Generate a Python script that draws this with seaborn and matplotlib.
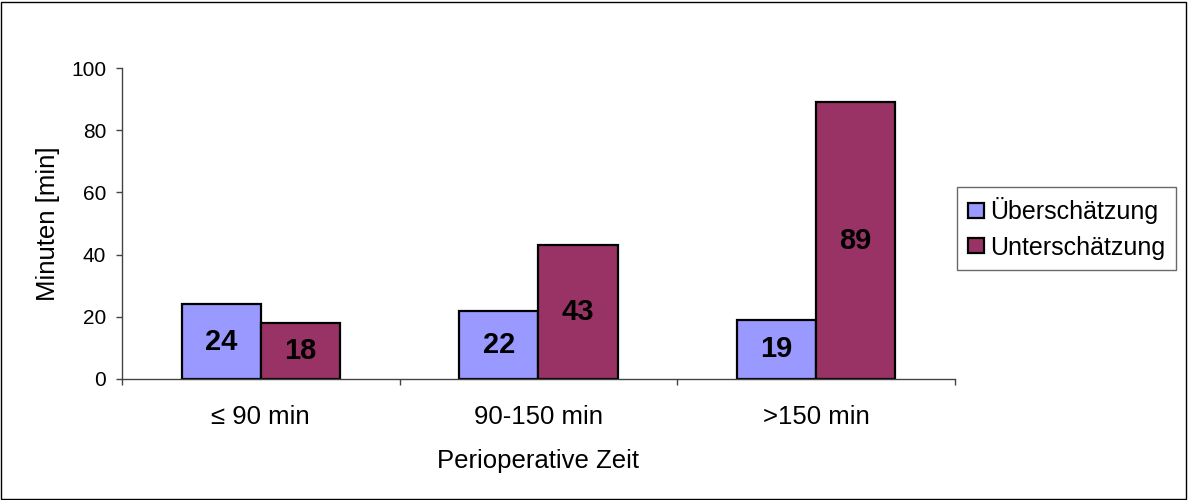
import matplotlib
matplotlib.use("Agg")
import matplotlib.pyplot as plt
from matplotlib.patches import Rectangle
from matplotlib.ticker import FixedLocator, NullFormatter
import seaborn as sns
import pandas as pd

# Data
categories = ["≤ 90 min", "90-150 min", ">150 min"]
series_names = ["Überschätzung", "Unterschätzung"]
ueberschaetzung = [24, 22, 19]
unterschaetzung = [18, 43, 89]
colors = ["#9999FF", "#993366"]

df = pd.DataFrame({
    "Zeit": categories * 2,
    "Serie": [series_names[0]] * 3 + [series_names[1]] * 3,
    "Minuten": ueberschaetzung + unterschaetzung,
})

sns.set_theme(style="white")
plt.rcParams["font.family"] = ["Liberation Sans", "DejaVu Sans"]
plt.rcParams["text.color"] = "black"
plt.rcParams["axes.labelcolor"] = "black"
plt.rcParams["xtick.color"] = "black"
plt.rcParams["ytick.color"] = "black"

fig = plt.figure(figsize=(11.88, 5.0), dpi=100)
ax = fig.add_axes([0.1027, 0.242, 0.701, 0.622])

sns.barplot(data=df, x="Zeit", y="Minuten", hue="Serie", order=categories,
            hue_order=series_names, palette=colors, width=0.57,
            edgecolor="black", linewidth=1.6, saturation=1, ax=ax)

for cont in ax.containers:
    ax.bar_label(cont, label_type="center", fontsize=21, fontweight="bold",
                 color="black")

ax.set_ylim(0, 100)
ax.set_xlim(-0.5, 2.5)
ax.set_yticks([0, 20, 40, 60, 80, 100])
ax.tick_params(axis="y", labelsize=15, length=4.3, width=1, color="#444444",
               labelcolor="black", direction="out", left=True, pad=7)
ax.tick_params(axis="x", which="major", labelsize=18.5, length=0, pad=19,
               labelcolor="black")
ax.xaxis.set_minor_locator(FixedLocator([-0.5, 0.5, 1.5, 2.5]))
ax.xaxis.set_minor_formatter(NullFormatter())
ax.tick_params(axis="x", which="minor", length=4.3, width=1, color="#444444",
               direction="out", bottom=True)

for side in ["top", "right"]:
    ax.spines[side].set_visible(False)
for side in ["left", "bottom"]:
    ax.spines[side].set_color("#444444")
    ax.spines[side].set_linewidth(1)

ax.set_ylabel("Minuten [min]", fontsize=18.5, labelpad=8, color="black")
ax.set_xlabel("Perioperative Zeit", fontsize=18.5, labelpad=14, color="black")

leg = ax.legend(title=None, loc="center left",
                bbox_to_anchor=(957 / 1188, 1 - 228.5 / 500),
                bbox_transform=fig.transFigure,
                fontsize=18, frameon=True, fancybox=False, handlelength=0.64,
                handleheight=0.56, handletextpad=0.28, borderpad=0.42,
                labelspacing=0.45, borderaxespad=0.0)
leg.get_frame().set_edgecolor("#444444")
leg.get_frame().set_linewidth(1)
for t in leg.get_texts():
    t.set_color("black")
for h in leg.legend_handles:
    h.set_edgecolor("black")
    h.set_linewidth(1.6)

# Outer frame around the whole chart
fig.patches.append(Rectangle((0.001, 0.002), 0.997, 0.995, transform=fig.transFigure,
                             fill=False, edgecolor="black", linewidth=1))

fig.savefig("out.png", dpi=100)
